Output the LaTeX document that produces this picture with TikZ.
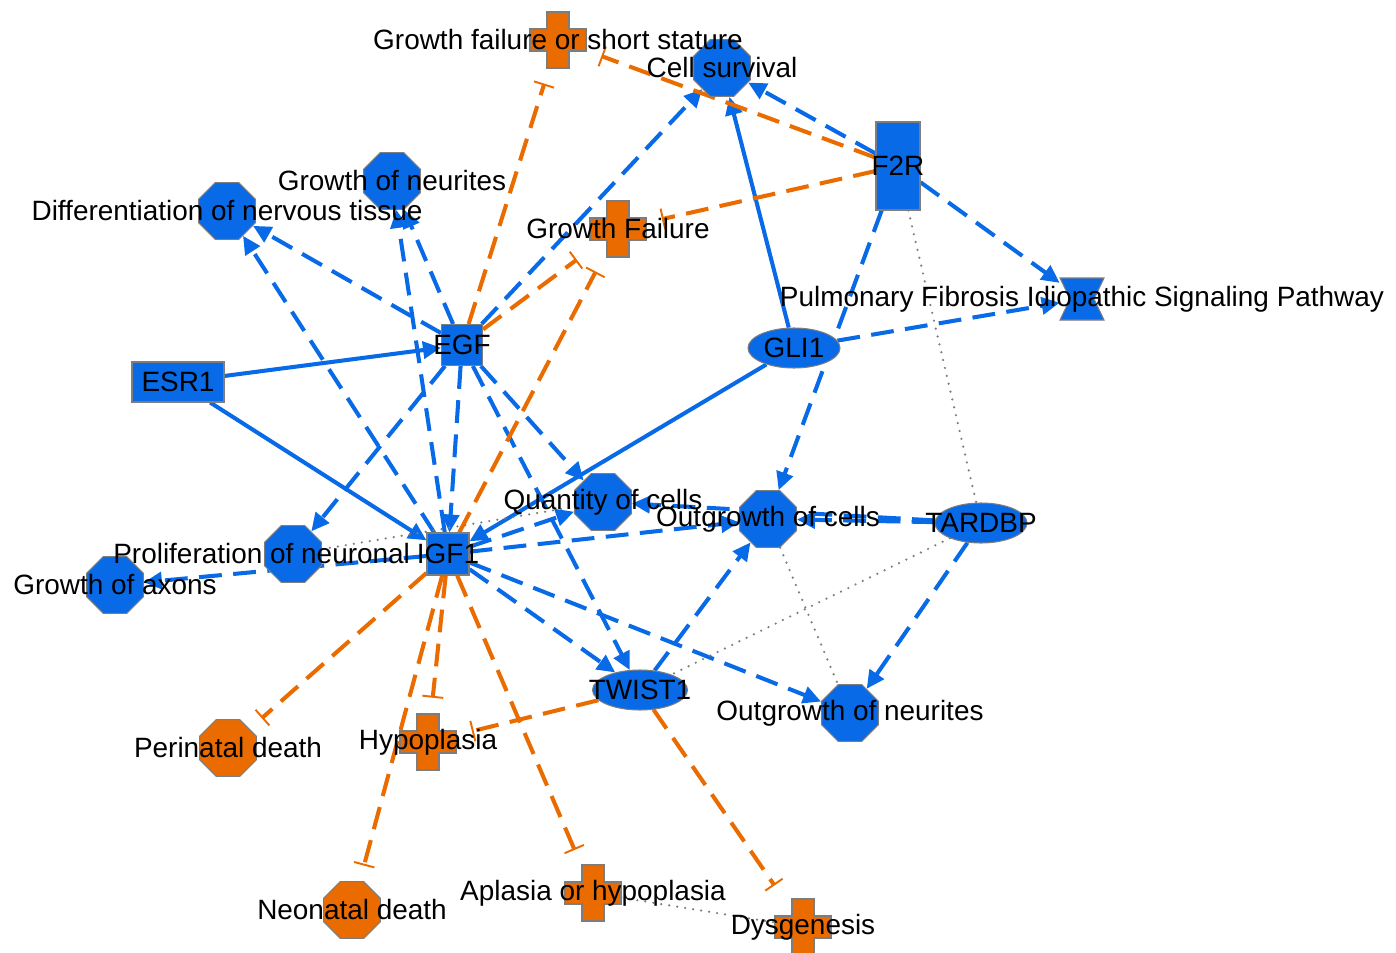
\documentclass[tikz,border=0pt]{standalone}
\usepackage{fontspec}
\setmainfont{Liberation Sans}
\usetikzlibrary{arrows.meta,calc,positioning,shapes.geometric}
\definecolor{ipablue}{RGB}{8,106,230}
\definecolor{ipaorange}{RGB}{234,107,0}
\definecolor{ipagray}{RGB}{125,125,125}
\pgfdeclarelayer{edges}
\pgfsetlayers{edges,main}
\def\octblue{cellsurv/722/68/Cell survival,neurites/392/181/Growth of neurites,difftis/227/211/Differentiation of nervous tissue,quant/603/502/Quantity of cells,outcells/768/519/Outgrowth of cells,axons/115/585/Growth of axons,outneur/850/713/Outgrowth of neurites}
\def\octorange{perinatal/228/748/Perinatal death,neonatal/352/910/Neonatal death}
\def\crosslist{gfss/558/40/Growth failure or short stature,gfail/618/229/Growth Failure,hypo/428/742/Hypoplasia,aplasia/593/893/Aplasia or hypoplasia,dysgen/803/927/Dysgenesis}

\begin{document}
\begin{tikzpicture}[x=0.02cm,y=-0.02cm,font=\fontsize{15.9}{19}\selectfont,
  oct/.style={regular polygon,regular polygon sides=8,minimum size=1.23cm,inner sep=0pt,draw=ipagray,line width=0.6pt},
  mol/.style={draw=ipagray,line width=0.6pt,fill=ipablue,inner sep=0pt},
  ell/.style={mol,ellipse,minimum width=1.84cm,minimum height=0.8cm},
  crossbox/.style={minimum size=1.12cm,inner sep=0pt},
  lab/.style={inner sep=0pt,text=black},
  act/.style={ipablue,line width=2.3pt,dash pattern=on 13pt off 6.5pt,-{Triangle[length=0.36cm,width=0.34cm]}},
  actsolid/.style={ipablue,line width=2.3pt,-{Triangle[length=0.36cm,width=0.34cm]}},
  inh/.style={ipaorange,line width=2.3pt,dash pattern=on 13pt off 6.5pt,-{Bar[width=0.42cm,line width=1.1pt]},shorten >=0.32cm},
  assoc/.style={ipagray,line width=1.4pt,line cap=round,dash pattern=on 0pt off 4.6pt}]
\useasboundingbox (0,0) rectangle (1396,953);
% shapes
\foreach \n/\x/\y/\t in \octblue
  \node[oct,fill=ipablue] (\n) at (\x,\y) {};
\node[oct,fill=ipablue] (prolif) at (293,554) {};
\foreach \n/\x/\y/\t in \octorange
  \node[oct,fill=ipaorange] (\n) at (\x,\y) {};
\foreach \n/\x/\y/\t in \crosslist{
  \filldraw[fill=ipaorange,draw=ipagray,line width=0.6pt,shift={(\x,\y)}] (-11,-28) -- (11,-28) -- (11,-11) -- (28,-11) -- (28,11) -- (11,11)
    -- (11,28) -- (-11,28) -- (-11,11) -- (-28,11) -- (-28,-11) -- (-11,-11) -- cycle;
  \node[crossbox] (\n) at (\x,\y) {};}
\filldraw[fill=ipablue,draw=ipagray,line width=0.6pt,shift={(1082,299)}] (-22,-21) -- (22,-21) -- (12,0) -- (22,21) -- (-22,21) -- (-12,0) -- cycle;
\node[minimum width=0.88cm,minimum height=0.84cm,inner sep=0pt] (pulm) at (1082,299) {};
\node[mol,minimum width=0.88cm,minimum height=1.76cm] (f2r) at (898,166) {};
\node[mol,minimum width=1.84cm,minimum height=0.8cm] (esr) at (178,382) {};
\node[mol,minimum size=0.82cm] (egf) at (462,345) {};
\node[mol,minimum size=0.84cm] (igf) at (448,554) {};
\node[ell] (gli) at (794,348) {};
\node[ell] (tardbp) at (981,523) {};
\node[ell,minimum width=1.9cm] (twist) at (640,690) {};
% labels
\foreach \n/\x/\y/\t in \octblue \node[lab] at (\n) {\t};
\foreach \n/\x/\y/\t in \octorange \node[lab] at (\n) {\t};
\foreach \n/\x/\y/\t in \crosslist \node[lab] at (\n) {\t};
\foreach \n/\t in {f2r/F2R,esr/ESR1,egf/EGF,igf/IGF1,gli/GLI1,tardbp/TARDBP,twist/TWIST1}
  \node[lab] at (\n) {\t};
\node[lab] at (pulm) {Pulmonary Fibrosis Idiopathic Signaling Pathway};
\node[lab,anchor=west] at (113,554) {Proliferation of neuronal};
% connectors
\begin{pgfonlayer}{edges}
\foreach \a/\b in {f2r/cellsurv,f2r/pulm,f2r/outcells,gli/pulm,egf/cellsurv,egf/neurites,egf/difftis,egf/igf,egf/prolif,egf/quant,egf/twist,
  igf/neurites,igf/difftis,igf/quant,igf/outcells,igf/twist,igf/outneur,igf/axons,tardbp/quant,tardbp/outcells,tardbp/outneur,twist/outcells}
  \draw[act] (\a) -- (\b);
\foreach \a/\b in {esr/egf,esr/igf,gli/igf,gli/cellsurv}
  \draw[actsolid] (\a) -- (\b);
\foreach \a/\b in {f2r/gfss,f2r/gfail,egf/gfss,egf/gfail,igf/gfail,igf/perinatal,igf/hypo,igf/neonatal,igf/aplasia,twist/hypo,twist/dysgen}
  \draw[inh] (\a) -- (\b);
\foreach \a/\b in {f2r/tardbp,prolif/quant,tardbp/twist,outcells/outneur,aplasia/dysgen}
  \draw[assoc] (\a) -- (\b);
\end{pgfonlayer}
\end{tikzpicture}
\end{document}
